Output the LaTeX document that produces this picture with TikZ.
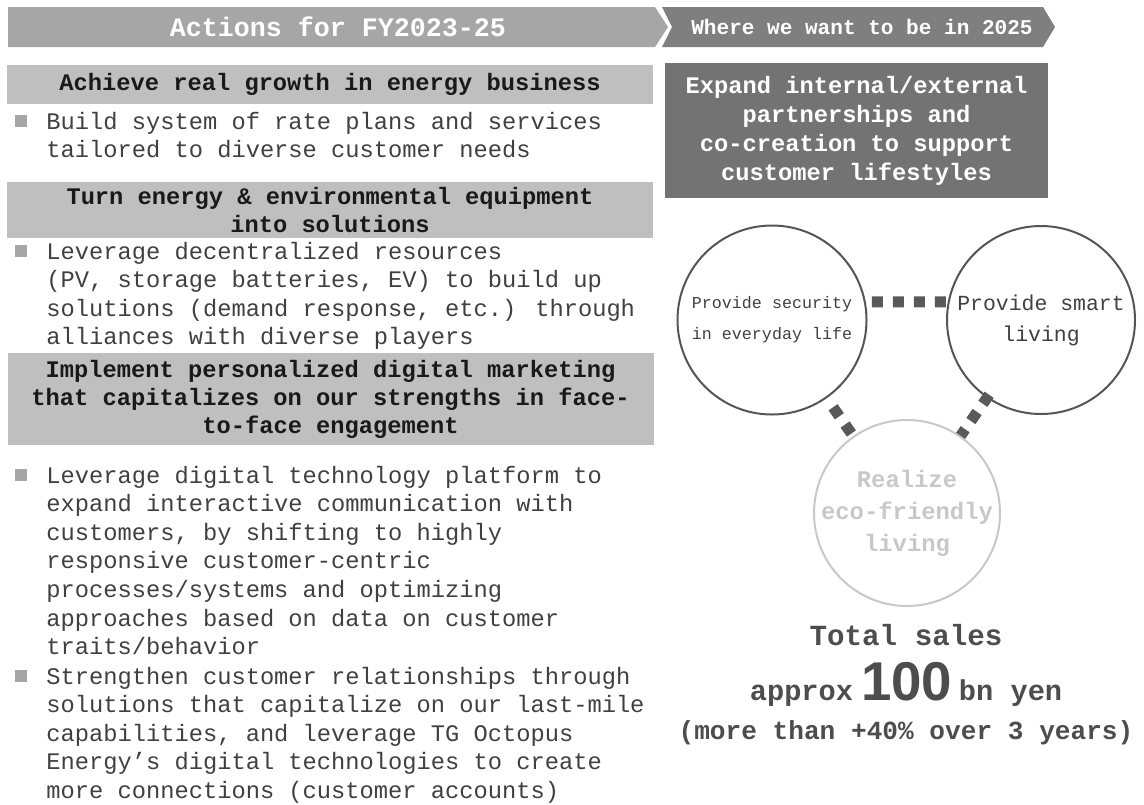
\documentclass[tikz,border=0pt]{standalone}
\usepackage{fontspec}
\setmainfont{Liberation Mono}
\newfontfamily\numfont{Liberation Sans}
\usepackage{tikz}
\usetikzlibrary{shapes.geometric}
\usepackage{xcolor}
\definecolor{bandlight}{HTML}{A6A6A6}
\definecolor{banddark}{HTML}{7F7F7F}
\definecolor{boxgrey}{HTML}{BFBFBF}
\definecolor{goalgrey}{HTML}{737373}
\definecolor{bodytext}{HTML}{404040}
\definecolor{ringdark}{HTML}{555555}
\definecolor{ringlight}{HTML}{C8C8C8}
\definecolor{dotgrey}{HTML}{595959}
\definecolor{salestext}{HTML}{4D4D4D}
\newcommand{\bulsq}{\llap{\textcolor{bandlight}{\rule[1.5pt]{9pt}{9pt}}\hspace{14.25pt}}}
\tikzset{
  bandtext/.style={
    text=white,
    inner sep=0pt,
    font=\bfseries
    },
  heading/.style={
    rectangle,
    minimum width=484.5pt,
    text width=472pt,
    align=flush center,
    inner sep=0pt,
    fill=boxgrey,
    text=black!90,
    font=\bfseries\fontsize{17.8pt}{21pt}\selectfont
    },
  bullet/.style={
    anchor=base west,
    text width=465pt,
    align=flush left,
    inner sep=0pt,
    text=bodytext,
    font=\fontsize{17.8pt}{21.45pt}\selectfont
    },
  goal/.style={
    rectangle,
    minimum width=287.25pt,
    minimum height=101.25pt,
    text width=280pt,
    align=flush center,
    inner sep=0pt,
    fill=goalgrey,
    text=white,
    font=\bfseries\fontsize{17.8pt}{21.75pt}\selectfont
    },
  ring/.style={
    circle,
    draw=ringdark,
    line width=1.5pt,
    inner sep=0pt
    },
  ringtext/.style={
    align=flush center,
    inner sep=0pt,
    text=bodytext
    },
  dots/.style={
    draw=dotgrey,
    line width=8.25pt,
    dash pattern=on 8.25pt off 7.5pt
    },
  sales/.style={
    inner sep=0pt,
    text=salestext
    },
}

\begin{document}
\begin{tikzpicture}[
            x = 0.75pt, % one unit per pixel
            y = -0.75pt, % y runs downwards
            semithick
        ]
  \useasboundingbox (0,0) rectangle (1144,804);

  % banner
  \fill[bandlight] (8,7) -- (655,7) -- (668,27) -- (655,47) -- (8,47) -- cycle;
  \fill[banddark] (662,7) -- (1043,7) -- (1055,27) -- (1043,47) -- (662,47) -- (672,27) -- cycle;
  \node[bandtext, font=\bfseries\fontsize{20pt}{24pt}\selectfont] (actions) at (338,27) {Actions for FY2023-25};
  \node[bandtext, font=\bfseries\fontsize{15.8pt}{19pt}\selectfont] (target) at (862,27) {Where we want to be in 2025};

  % left column
  \node[heading, minimum height=29.25pt] (growth) at (330,84.5) {Achieve real growth in energy business};
  \node[bullet] (rates) at (46,129) {\bulsq Build system of rate plans and services\\tailored to diverse customer needs};

  \node[heading, minimum height=42pt] (equip) at (330,210) {Turn energy \& environmental equipment\\into solutions};
  \node[bullet] (derres) at (46,259) {\bulsq Leverage decentralized resources\\(PV, storage batteries, EV) to build up\\solutions (demand response, etc.) through\\alliances with diverse players};

  \node[heading, minimum height=69pt] (digital) at (330.5,399) {Implement personalized digital marketing\\that capitalizes on our strengths in face-\\to-face engagement};
  \node[bullet] (platform) at (46,483) {\bulsq Leverage digital technology platform to\\expand interactive communication with\\customers, by shifting to highly\\responsive customer-centric\\processes/systems and optimizing\\approaches based on data on customer\\traits/behavior};
  \node[bullet] (lastmile) at (46,684) {\bulsq Strengthen customer relationships through\\solutions that capitalize on our last-mile\\capabilities, and leverage TG Octopus\\Energy's digital technologies to create\\more connections (customer accounts)};

  % right column
  \node[goal] (partner) at (856.5,130.5) {Expand internal/external\\partnerships and\\co-creation to support\\customer lifestyles};

  \node[ring, minimum size=141.75pt,
        label={[ringtext, font=\fontsize{12.5pt}{23.25pt}\selectfont]center:{Provide security\\in everyday life}}] (secure) at (772,320) {};
  \node[ring, minimum size=141pt,
        label={[ringtext, font=\fontsize{16.1pt}{23.25pt}\selectfont]center:{Provide smart\\living}}] (smart) at (1041,320) {};
  \node[ring, draw=ringlight, minimum size=139.5pt,
        label={[ringtext, text=ringlight, font=\bfseries\fontsize{17.9pt}{24pt}\selectfont]center:{Realize\\eco-friendly\\living}}] (eco) at (907,513) {};

  \draw[dots, shorten <=4.5pt] (secure.11) -- (smart.169);
  \draw[dots, shorten <=8.25pt] (secure) -- (eco);
  \draw[dots, shorten <=-3pt] (smart) -- (eco);

  \node[sales, font=\bfseries\fontsize{21.9pt}{26pt}\selectfont] (total) at (906,635) {Total sales};
  \node[sales, anchor=base, font=\bfseries\fontsize{21.5pt}{26pt}\selectfont] (amount) at (906,700)
    {approx\hspace{6pt}{\numfont\fontsize{41pt}{42pt}\selectfont 100}\hspace{5pt}bn yen};
  \node[sales, font=\bfseries\fontsize{19.6pt}{24pt}\selectfont] (growth3y) at (906,733) {(more than +40\% over 3 years)};
\end{tikzpicture}
\end{document}
